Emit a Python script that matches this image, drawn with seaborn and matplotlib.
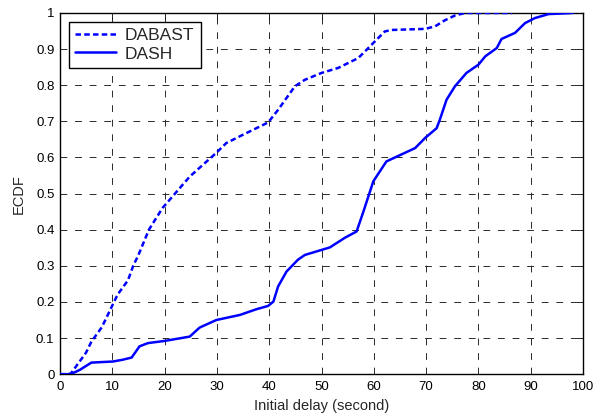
import matplotlib
matplotlib.use("Agg")
import matplotlib.pyplot as plt
import seaborn as sns
import pandas as pd

# Initial delay samples (seconds) and empirical CDF values
dabast_x = [0, 2, 3, 5, 6, 8, 10, 11, 13, 14, 15, 17, 19.6, 24.8, 29.9, 31.8, 35, 39.8,
            41.7, 44.9, 46.8, 50, 53.2, 57, 58.6, 59.9, 62.1, 63.4, 69.8, 71.7, 73.6,
            75.5, 77.4, 86.4]
dabast_y = [0, 0, 0.02, 0.06, 0.09, 0.13, 0.19, 0.22, 0.26, 0.30, 0.33, 0.40, 0.46, 0.547,
            0.613, 0.64, 0.663, 0.697, 0.732, 0.797, 0.815, 0.834, 0.848, 0.875, 0.898,
            0.917, 0.949, 0.953, 0.956, 0.963, 0.98, 0.993, 1.0, 1.0]

dash_x = [0, 1.5, 2.5, 3.8, 6, 10.1, 12, 13.7, 15.2, 16.8, 20, 24.8, 26.7, 29.9, 34.4,
          37.6, 39.8, 40.8, 41.7, 43.3, 45.5, 46.8, 50, 51.6, 54.5, 56.7, 58, 59.9, 62.4,
          67.9, 69.8, 72, 72.6, 73.9, 75.5, 77.7, 80, 81.3, 83.5, 84.4, 87, 88.9, 90.8,
          93.4, 98]
dash_y = [0, 0, 0.003, 0.012, 0.032, 0.035, 0.04, 0.046, 0.077, 0.086, 0.092, 0.104,
          0.129, 0.15, 0.164, 0.18, 0.189, 0.201, 0.243, 0.284, 0.317, 0.33, 0.344, 0.351,
          0.378, 0.395, 0.45, 0.534, 0.589, 0.626, 0.654, 0.681, 0.704, 0.76, 0.797, 0.834,
          0.857, 0.88, 0.903, 0.928, 0.945, 0.972, 0.986, 0.997, 1.0]

x_ticks = list(range(0, 101, 10))
y_ticks = [i / 10 for i in range(11)]
y_tick_labels = ["0", "0.1", "0.2", "0.3", "0.4", "0.5", "0.6", "0.7", "0.8", "0.9", "1"]

sns.set_style("white")
plt.rcParams["font.family"] = ["Liberation Sans", "DejaVu Sans"]

fig = plt.figure(figsize=(5.95, 4.19), dpi=100)
ax = fig.add_axes([0.1008, 0.107, 0.8792, 0.862])

df_a = pd.DataFrame({"x": dabast_x, "y": dabast_y})
df_d = pd.DataFrame({"x": dash_x, "y": dash_y})

sns.lineplot(data=df_a, x="x", y="y", ax=ax, color="#0000ff", lw=1.8,
             estimator=None, sort=False, label="DABAST",
             linestyle=(0, (2.2, 1.3)), zorder=3)
sns.lineplot(data=df_d, x="x", y="y", ax=ax, color="#0000ff", lw=1.8,
             estimator=None, sort=False, label="DASH", zorder=3)

ax.set_xlim(0, 100)
ax.set_ylim(0, 1)
ax.set_xticks(x_ticks)
ax.set_xticklabels([str(t) for t in x_ticks])
ax.set_yticks(y_ticks)
ax.set_yticklabels(y_tick_labels)
ax.tick_params(direction="in", length=4, width=0.6, labelsize=9.5, colors="black",
               top=True, right=True)
ax.tick_params(axis="x", pad=5)
ax.tick_params(axis="y", pad=4)
ax.grid(True, color="#2a2a2a", linestyle=(0, (7, 8)), linewidth=0.7)
for s in ax.spines.values():
    s.set_color("black")
    s.set_linewidth(1.0)

ax.set_xlabel("Initial delay (second)", fontsize=10.5, labelpad=4)
ax.set_ylabel("ECDF", fontsize=10.5, labelpad=7)

leg = ax.legend(loc="upper left", fontsize=12.5, frameon=True, fancybox=False,
                edgecolor="black", handlelength=2.4, borderpad=0.35, labelspacing=0.2,
                handletextpad=0.5, borderaxespad=0.5)
leg.get_frame().set_linewidth(1.0)
leg.get_frame().set_alpha(1)

fig.savefig("out.png", dpi=100)
